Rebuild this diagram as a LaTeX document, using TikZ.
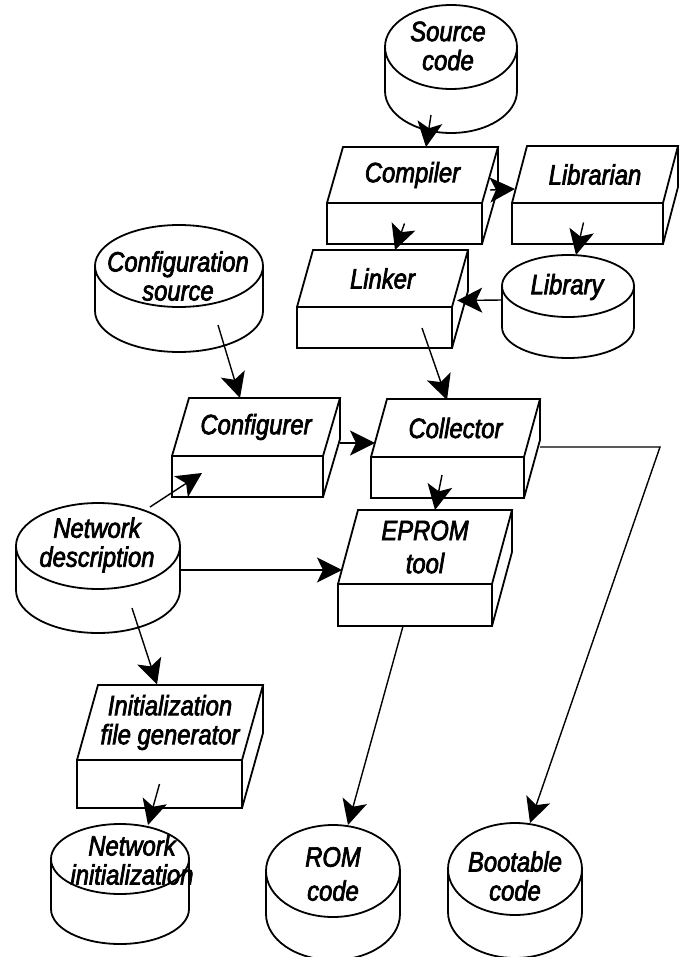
\documentclass[tikz,border=0pt]{standalone}
\usepackage{fontspec}
\setmainfont{Liberation Sans}[FakeStretch=0.85,FakeBold=2.5]
\usetikzlibrary{arrows.meta,calc}

\tikzset{
  outline/.style={line width=1.8pt, line join=miter},
  lbl/.style={font=\fontsize{28}{29}\selectfont\itshape, align=center, inner sep=0pt},
  arr/.style={line width=1.4pt, -{Stealth[length=25pt,width=25pt,inset=6pt]}},
  % slab: front face width, height, depth dx, depth dy, label
  pics/slab/.style n args={5}{code={
    \draw[outline] (0,0) rectangle (#1,#2);
    \draw[outline] (0,0) -- (#3,-#4) -- ({#1+#3},-#4) -- (#1,0);
    \draw[outline] ({#1+#3},-#4) -- ({#1+#3},{#2-#4}) -- (#1,#2);
    \node[lbl] (-t) at ({(#1+#3)/2},{-#4/2}) {#5};
    \node[inner sep=0pt, minimum width=#1pt, minimum height=#2pt] (-f) at ({#1/2},{#2/2}) {};
  }},
  % disk: x radius, y radius, height, label offset x, label offset y, label
  pics/disk/.style n args={6}{code={
    \draw[outline] (-#1,0) -- (-#1,#3) arc[start angle=180, end angle=360, x radius=#1pt, y radius=#2pt] -- (#1,0);
    \draw[outline] (0,0) ellipse[x radius=#1pt, y radius=#2pt];
    \node[lbl] (-t) at (#4,#5) {#6};
    \coordinate (-c) at (0,0);
  }},
}

\begin{document}
\begin{tikzpicture}[x=1pt,y=-1pt]
\useasboundingbox (0,0) rectangle (688,957);

% stores
\pic (source)  at (451,47)  {disk={66}{42}{44}{-3}{-1}{Source\\code}};
\pic (config)  at (179,266) {disk={84}{41}{45}{-1}{10}{Configuration\\source}};
\pic (library) at (568,286) {disk={66}{31}{41}{-1}{1}{Library}};
\pic (netdesc) at (98,546)  {disk={82}{43}{44}{-1}{-1}{Network\\description}};
\pic (netinit) at (120,859) {disk={69}{35}{50}{12}{1}{Network\\initialization}};
\pic (rom)     at (333,871) {disk={67}{46}{43}{0}{3}{ROM\\[5pt]code}};
\pic (boot)    at (515,869) {disk={67}{46}{43}{0}{7}{Bootable\\code}};

% tools
\pic (compiler)   at (327,203) {slab={155}{41}{16}{56}{Compiler}};
\pic (librarian)  at (512,203) {slab={151}{41}{15}{57}{Librarian}};
\pic (linker)     at (297,307) {slab={155}{41}{16}{57}{Linker}};
\pic (configurer) at (172,456) {slab={151}{41}{17}{58}{Configurer}};
\pic (collector)  at (371,457) {slab={153}{41}{16}{58}{Collector}};
\pic (eprom)      at (338,584) {slab={154}{42}{20}{74}{EPROM\\[4pt]tool}};
\pic (initgen)    at (77,760)  {slab={165}{48}{21}{75}{Initialization\\file generator}};

% flows
\draw[arr] ($(source-c)+(-20,68)$) -- ($(compiler-t)+(13.5,-28)$);
\draw[arr] ($(compiler-t)+(77.5,15)$) -- ($(librarian-t)+(-80,14.5)$);
\draw[arr] (compiler-f.center) -- ($(linker-t)+(12.5,-28.5)$);
\draw[arr] ($(librarian-f.center)+(-4,-1)$) -- ($(library-c)+(8,-31)$);
\draw[arr] ($(library-c)+(-66,14)$) -- ($(linker-f.east)+(5,-27)$);
\draw[arr] ($(config-c)+(39,59)$) -- ($(configurer-t)+(-16,-29)$);
\draw[arr] ($(linker-f.center)+(47.5,0.5)$) -- ($(collector-t)+(-8.5,-28)$);
\draw[arr] ($(configurer-t)+(84,16)$) -- ($(collector-t)+(-80.5,15)$);
\draw[arr] ($(netdesc-c)+(52,-39)$) -- ($(configurer-f.center)+(-45.5,-3.5)$);
\draw[arr] ($(netdesc-c)+(82,24)$) -- ($(eprom-t)+(-83,23)$);
\draw[arr] ($(collector-f.center)+(-5.5,-2.5)$) -- ($(eprom-t)+(10,-37)$);
\coordinate (bend) at (660,447);
\draw[arr] ($(collector-t)+(84.5,19)$) -- (bend) -- ($(boot-c)+(15,-46)$);
\draw[arr] ($(eprom-f.south)+(-12,0)$) -- ($(rom-c)+(15,-46)$);
\draw[arr] ($(netdesc-c)+(34,62)$) -- ($(initgen-t)+(-13,-38)$);
\draw[arr] (initgen-f.center) -- ($(netinit-c)+(28,-34)$);
\end{tikzpicture}
\end{document}
